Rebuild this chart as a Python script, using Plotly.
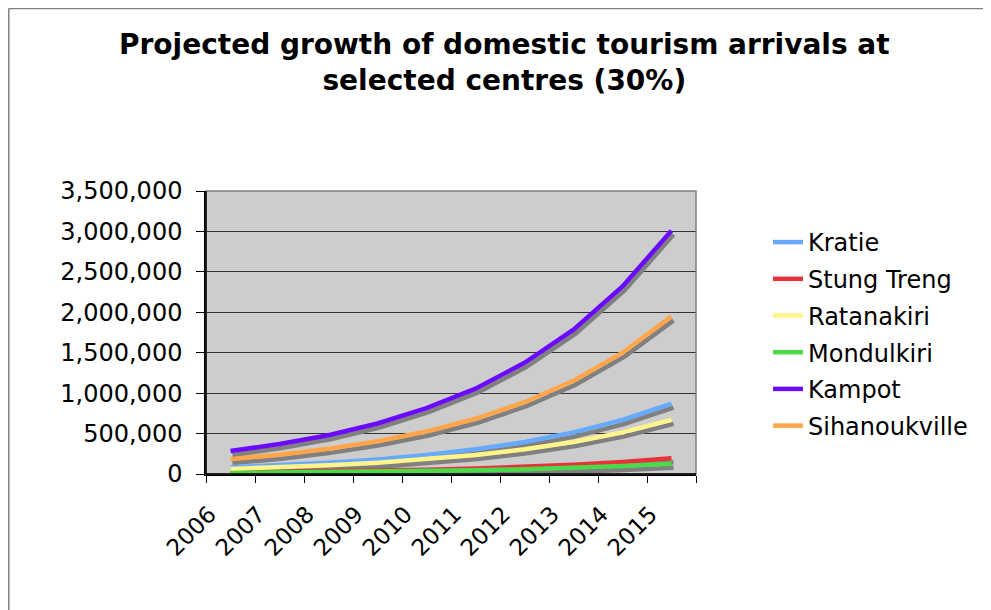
import plotly.graph_objects as go

years = ["2006", "2007", "2008", "2009", "2010", "2011", "2012", "2013", "2014", "2015"]

kratie = [82000, 107000, 139000, 180000, 234000, 305000, 396000, 515000, 669000, 870000]
stung_treng = [18000, 24000, 31000, 40000, 52000, 68000, 88000, 115000, 149000, 194000]
ratanakiri = [63000, 82000, 107000, 139000, 180000, 234000, 305000, 396000, 515000, 670000]
mondulkiri = [12000, 16000, 20000, 26000, 34000, 45000, 58000, 76000, 98000, 128000]
kampot = [285000, 370000, 480000, 625000, 815000, 1055000, 1375000, 1785000, 2320000, 3010000]
sihanoukville = [184000, 239000, 311000, 404000, 525000, 683000, 888000, 1154000, 1500000, 1950000]

series_names = ["Kratie", "Stung Treng", "Ratanakiri", "Mondulkiri", "Kampot", "Sihanoukville"]
series_values = [kratie, stung_treng, ratanakiri, mondulkiri, kampot, sihanoukville]
series_colors = ["#66AAFF", "#E8323A", "#FFF58A", "#4ADB4A", "#6A0AFF", "#FFA64A"]

W, H = 991, 610
ML, MT = 198, 183
PW, PH = 490, 283
MR, MB = W - ML - PW, H - MT - PH
YMAX = 3500000
FONT = "DejaVu Sans, Verdana, sans-serif"

# pixel (figure coords) -> paper coords
def px(x):
    return (x - ML) / PW

def py(y):
    return (MT + PH - y) / PH

# shadow offset (pixels) -> axis range shift
sdx, sdy = 2, 4
ncat = len(years)
dx_cat = sdx * ncat / PW
dy_val = sdy * YMAX / PH

fig = go.Figure()

# shadows on base axes (hidden), drawn below
for vals in series_values:
    fig.add_trace(go.Scatter(x=years, y=vals, mode="lines", xaxis="x", yaxis="y",
                             line=dict(color="#808080", width=4.5), showlegend=False,
                             hoverinfo="skip"))

# coloured lines on the visible overlaying axes
for name, vals, col in zip(series_names, series_values, series_colors):
    fig.add_trace(go.Scatter(x=years, y=vals, mode="lines", name=name, xaxis="x2", yaxis="y2",
                             legendgroup=name, line=dict(color=col, width=4.5)))

fig.update_layout(
    width=W, height=H,
    margin=dict(l=ML, r=MR, t=MT, b=MB, pad=0),
    paper_bgcolor="white",
    plot_bgcolor="#CDCDCD",
    font=dict(family=FONT, size=24, color="black"),
    xaxis=dict(type="category", range=[-0.5 - dx_cat, ncat - 0.5 - dx_cat], visible=False,
               showgrid=False, fixedrange=True),
    yaxis=dict(range=[dy_val, YMAX + dy_val], visible=False, showgrid=False, zeroline=False),
    xaxis2=dict(type="category", overlaying="x", range=[-0.5, ncat - 0.5],
                tickangle=-45, tickson="boundaries", ticks="outside", ticklen=7,
                tickcolor="black", showline=True, linecolor="black", linewidth=1.5,
                mirror=False, showgrid=False, tickfont=dict(size=23),
                ticklabelshift=-21, ticklabelstandoff=16),
    yaxis2=dict(overlaying="y", range=[0, YMAX], dtick=500000, tickformat=",",
                ticks="outside", ticklen=8, tickcolor="black", showline=True,
                linecolor="black", linewidth=1.5, showgrid=True, gridcolor="#333333",
                gridwidth=1.2, zeroline=False, tickfont=dict(size=24), ticklabelstandoff=9),
    legend=dict(x=px(760), y=py(212), xanchor="left", yanchor="top",
                bgcolor="rgba(0,0,0,0)", font=dict(size=24), tracegroupgap=2.5,
                traceorder="grouped"),
    showlegend=True,
)

# plot-area border (top/right grey)
fig.add_shape(type="rect", xref="paper", yref="paper", x0=0, y0=0, x1=1, y1=1,
              line=dict(color="#808080", width=1.5), layer="above")
fig.add_shape(type="line", xref="paper", yref="paper", x0=0, y0=0, x1=0, y1=1,
              line=dict(color="black", width=1.5), layer="above")
fig.add_shape(type="line", xref="paper", yref="paper", x0=0, y0=0, x1=1, y1=0,
              line=dict(color="black", width=1.5), layer="above")

# outer chart frame (left and top edges visible)
fig.add_shape(type="line", xref="paper", yref="paper", x0=px(0.8), y0=py(H + 10), x1=px(0.8), y1=py(0.5),
              line=dict(color="#808080", width=1.5))
fig.add_shape(type="line", xref="paper", yref="paper", x0=px(0.8), y0=py(0.5), x1=px(W + 10), y1=py(0.5),
              line=dict(color="#808080", width=1.5))

fig.add_annotation(text="<b>Projected growth of domestic tourism arrivals at<br>selected centres (30%)</b>",
                   xref="paper", yref="paper", x=px(496.5), y=py(54),
                   xanchor="center", yanchor="middle", showarrow=False,
                   font=dict(family=FONT, size=28, color="black"))

fig.write_html("out.html")
